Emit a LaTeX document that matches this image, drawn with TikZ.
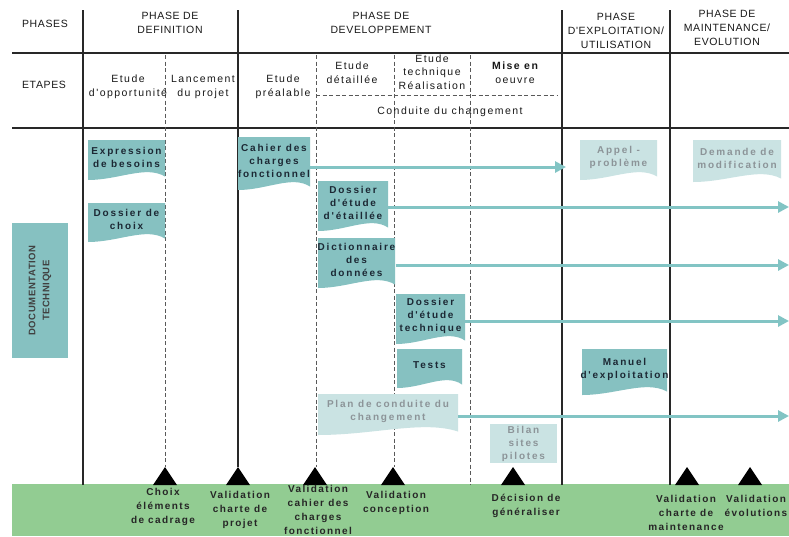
\documentclass[tikz,border=0pt]{standalone}
\usepackage{fontspec}
\setmainfont{Liberation Sans}
\newfontfamily\hdfont[LetterSpace=6]{Liberation Sans}
\newfontfamily\stfont[LetterSpace=14]{Liberation Sans}
\newfontfamily\docfont[LetterSpace=18]{Liberation Sans}
\newfontfamily\msfont[LetterSpace=14]{Liberation Sans}
\usetikzlibrary{arrows.meta}
\definecolor{docteal}{RGB}{134,193,193}
\definecolor{doclight}{RGB}{202,227,227}
\definecolor{lighttext}{RGB}{140,148,152}
\definecolor{doctext}{RGB}{28,40,52}
\definecolor{flowcol}{RGB}{130,196,196}
\definecolor{band}{RGB}{146,204,146}
\definecolor{linecol}{RGB}{40,40,40}
\tikzset{
  hdr/.style={font=\hdfont\fontsize{10.5}{14}\selectfont, align=center, text=black!90, inner sep=0pt},
  stage/.style={font=\stfont\fontsize{10.5}{13.5}\selectfont, align=center, text=black!90, inner sep=0pt},
  doctxt/.style={font=\docfont\bfseries\fontsize{10}{13}\selectfont, align=center, text=doctext, inner sep=0pt},
  docdim/.style={font=\docfont\bfseries\fontsize{10}{13}\selectfont, align=center, text=lighttext, inner sep=0pt},
  mslabel/.style={font=\msfont\bfseries\fontsize{10}{14}\selectfont, align=center, text=black!85, inner sep=0pt},
  flow/.style={draw=flowcol, line width=3pt, -{Triangle[length=11pt,width=11pt]}},
  rule/.style={draw=linecol, line width=2.5pt},
  vline/.style={draw=linecol, line width=1.2pt},
  dline/.style={draw=black!65, line width=0.8pt, dash pattern=on 4pt off 2.5pt},
  milestone/.style={fill=black}
}
% name, x0, y0, x1, ybottom, fill, text style, text
\newcommand\docu[8]{%
  \fill[#6] (#2,#3) -- (#4,#3) -- (#4,{#5-3.5})
    .. controls ({#2+0.75*(#4-#2)},{#5-15}) and ({#2+0.4*(#4-#2)},{#5}) .. (#2,#5) -- cycle;
  \node[#7, minimum width={(#4-#2)*1pt}, minimum height={(#5-6-#3)*1pt}] (#1)
    at ({(#2+#4)/2},{(#3+#5-6)/2}) {#8};
}
\begin{document}
\begin{tikzpicture}[x=1pt,y=-1pt]
\useasboundingbox (0,0) rectangle (789,536);
\fill[white] (0,0) rectangle (789,536);

% green band
\fill[band] (12,484) rectangle (789,536);

% grid
\draw[rule] (12,53) -- (789,53);
\draw[rule] (12,128) -- (789,128);
\draw[vline] (83,10) -- (83,485);
\draw[vline] (238,10) -- (238,467);
\draw[vline] (562,10) -- (562,485);
\draw[vline] (670,10) -- (670,485);
\draw[dline] (165,55) -- (165,467);
\draw[dline] (316,55) -- (316,467);
\draw[dline] (394,55) -- (394,467);
\draw[dline] (470,55) -- (470,485);
\draw[dline] (316,95) -- (557,95);

% headers
\node[hdr] (hphases) at (45,23.5) {PHASES};
\node[hdr] (hdef) at (170,23) {PHASE DE\\DEFINITION};
\node[hdr] (hdev) at (381,23) {PHASE DE\\DEVELOPPEMENT};
\node[hdr] (hexp) at (616,31) {PHASE\\D'EXPLOITATION/\\UTILISATION};
\node[hdr] (hmain) at (727,28) {PHASE DE\\MAINTENANCE/\\EVOLUTION};

% stages
\node[hdr] (hetapes) at (44,85) {ETAPES};
\node[stage] (s1) at (128,87) {Etude\\d'opportunité};
\node[stage] (s2) at (203,87) {Lancement\\du projet};
\node[stage] (s3) at (283,87) {Etude\\préalable};
\node[stage] (s4) at (352,72.5) {Etude\\détaillée};
\node[stage] (s5) at (432,72) {Etude\\technique\\Réalisation};
\node[stage] (s6) at (515,72.5) {\bfseries Mise en\\oeuvre};
\node[stage] (s7) at (450,112) {Conduite du changement};

% documentation box
\node[fill=docteal, rotate=90, minimum width=135pt, minimum height=56pt, inner sep=0pt,
      font=\hdfont\bfseries\fontsize{9.5}{14}\selectfont, align=center, text=black!75]
      (doctech) at (40,290.5) {DOCUMENTATION\\TECHNIQUE};

% documents
\docu{expr}{88}{140}{165}{180}{docteal}{doctxt}{Expression\\de besoins}
\docu{choix}{88}{203}{165}{242}{docteal}{doctxt}{Dossier de\\choix}
\docu{cahier}{238}{137}{310}{190}{docteal}{doctxt}{Cahier des\\charges\\fonctionnel}
\docu{detail}{318}{181}{388}{231}{docteal}{doctxt}{Dossier\\d'étude\\d'étaillée}
\docu{dict}{318}{238}{395}{288}{docteal}{doctxt}{Dictionnaire\\des\\données}
\docu{tech}{396}{294}{465}{344}{docteal}{doctxt}{Dossier\\d'étude\\technique}
\docu{tests}{397}{349}{462}{388}{docteal}{doctxt}{Tests}
\docu{manuel}{582}{349}{667}{395}{docteal}{doctxt}{Manuel\\d'exploitation}
\docu{appel}{580}{140}{657}{180}{doclight}{docdim}{Appel -\\problème}
\docu{demande}{693}{140}{781}{182}{doclight}{docdim}{Demande de\\modification}
\docu{plan}{318}{394}{458}{435}{doclight}{docdim}{Plan de conduite du\\changement}
\node[fill=doclight, docdim, minimum width=67pt, minimum height=39pt] (bilan) at (523.5,443.5) {Bilan\\sites\\pilotes};

% flows
\coordinate (f1) at (566,167);
\coordinate (f2) at (789,207);
\coordinate (f3) at (789,265);
\coordinate (f4) at (789,321);
\coordinate (f5) at (789,416);
\draw[flow] (cahier.east |- f1) -- (f1);
\draw[flow] (detail.east |- f2) -- (f2);
\draw[flow] (dict.east |- f3) -- (f3);
\draw[flow] (tech.east |- f4) -- (f4);
\draw[flow] (plan.east |- f5) -- (f5);

% milestones
\foreach \n/\x in {m1/165, m2/238, m3/315, m4/393, m5/513, m6/687, m7/750} {
  \coordinate (\n) at (\x,485);
  \fill[milestone] ([xshift=-12pt]\n) -- ([xshift=12pt]\n) -- ([yshift=18pt]\n) -- cycle;
}
\node[mslabel] (l1) at (163,506.5) {Choix\\éléments\\de cadrage};
\node[mslabel] (l2) at (240,510) {Validation\\charte de\\projet};
\node[mslabel] (l3) at (318,510) {Validation\\cahier des\\charges\\fonctionnel};
\node[mslabel] (l4) at (396,503) {Validation\\conception};
\node[mslabel] (l5) at (526,505.5) {Décision de\\généraliser};
\node[mslabel] (l6) at (686,512.5) {Validation\\charte de\\maintenance};
\node[mslabel] (l7) at (756,505.5) {Validation\\évolutions};
\end{tikzpicture}
\end{document}
